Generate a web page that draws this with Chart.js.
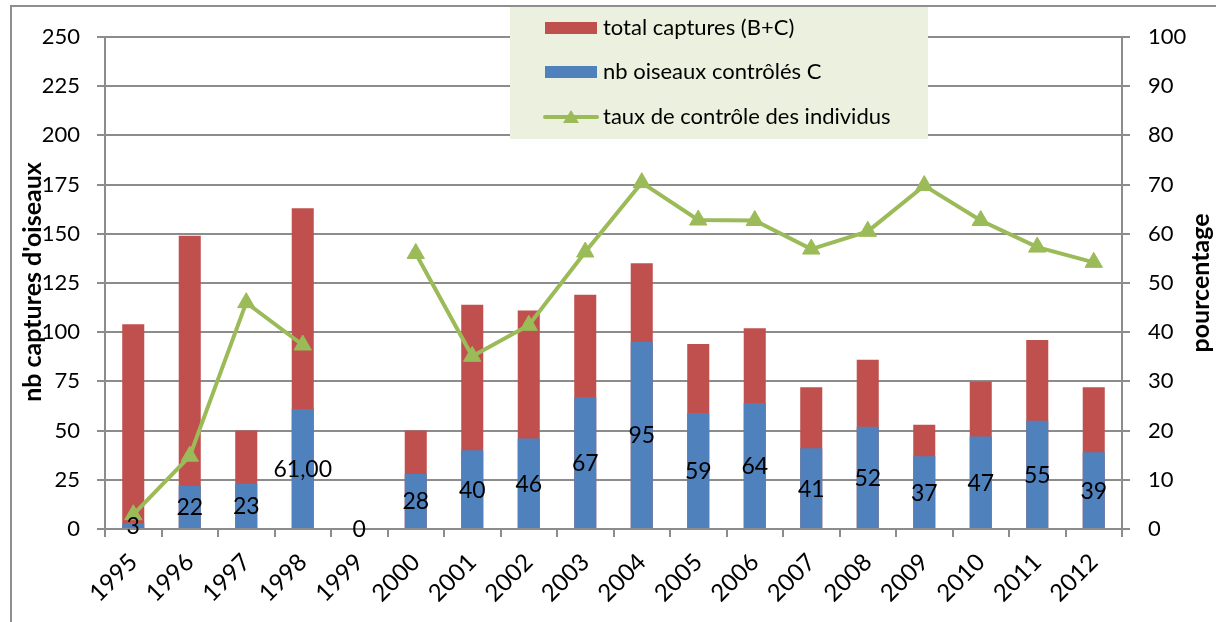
<!DOCTYPE html>
<html>
<head>
<meta charset="utf-8">
<script src="https://cdn.jsdelivr.net/npm/chart.js@4"></script>
<style>
  html, body { margin: 0; padding: 0; background: #fff; overflow: hidden; }
  #wrap { position: relative; width: 1216px; height: 622px; }
  #frame { position: absolute; left: 10px; top: 5px; width: 1300px; height: 700px;
           border: 2px solid #8e8e8e; box-sizing: border-box; pointer-events: none; }
</style>
</head>
<body>
<div id="wrap">
  <canvas id="chart" width="1216" height="622"></canvas>
  <div id="frame"></div>
</div>
<script>
const years = ['1995', '1996', '1997', '1998', '1999', '2000', '2001', '2002', '2003',
  '2004', '2005', '2006', '2007', '2008', '2009', '2010', '2011', '2012'];
const totalCaptures = [104, 149, 50, 163, 0, 50, 114, 111, 119, 135, 94, 102, 72, 86, 53, 75, 96, 72];
const controlled = [3, 22, 23, 61, 0, 28, 40, 46, 67, 95, 59, 64, 41, 52, 37, 47, 55, 39];
const controlRate = [2.9, 14.8, 46, 37.4, null, 56, 35.1, 41.4, 56.3, 70.4, 62.8, 62.7, 56.9, 60.5, 69.8, 62.7, 57.3, 54.2];
const controlledLabels = ['3', '22', '23', '61,00', '0', '28', '40', '46', '67', '95', '59', '64', '41', '52', '37', '47', '55', '39'];

const RED = '#C0504D';
const BLUE = '#4F81BD';
const GREEN = '#9BBB59';
const GRID = '#8c8c8c';
const FONT = 'Lato, "Open Sans", sans-serif';

// values printed in the middle of the blue bars
const barLabels = {
  id: 'barLabels',
  afterDatasetsDraw(chart) {
    const ctx = chart.ctx;
    const meta = chart.getDatasetMeta(1);
    ctx.save();
    ctx.font = '23px ' + FONT;
    ctx.fillStyle = '#000';
    ctx.textAlign = 'center';
    ctx.textBaseline = 'middle';
    meta.data.forEach((bar, i) => {
      const p = bar.getProps(['x', 'y', 'base'], true);
      ctx.fillText(controlledLabels[i], p.x, (p.y + p.base) / 2 + 1);
    });
    ctx.restore();
  }
};

// axis titles (both read bottom-to-top) and the boxed legend over the plot
const decorations = {
  id: 'decorations',
  afterDraw(chart) {
    const ctx = chart.ctx;
    ctx.save();
    ctx.font = 'bold 25px ' + FONT;
    ctx.fillStyle = '#000';
    ctx.textAlign = 'center';
    ctx.textBaseline = 'middle';
    [[33, 282, 'nb captures d\'oiseaux'], [1201, 283, 'pourcentage']].forEach(([x, y, txt]) => {
      ctx.save();
      ctx.translate(x, y);
      ctx.rotate(-Math.PI / 2);
      ctx.fillText(txt, 0, 0);
      ctx.restore();
    });

    // legend box
    const lx = 510, ly = 7, lw = 418, lh = 132;
    ctx.fillStyle = '#EBF1DE';
    ctx.fillRect(lx, ly, lw, lh);
    const rows = [28, 72, 117];
    const ds = chart.data.datasets;
    ctx.font = '22px ' + FONT;
    ctx.textAlign = 'left';
    ctx.textBaseline = 'middle';
    [0, 1].forEach((k) => {
      ctx.fillStyle = ds[k].backgroundColor;
      ctx.fillRect(545, rows[k] - 6, 52, 12);
      ctx.fillStyle = '#000';
      ctx.fillText(ds[k].label, 603, rows[k]);
    });
    ctx.strokeStyle = GREEN;
    ctx.lineWidth = 4;
    ctx.lineCap = 'round';
    ctx.beginPath();
    ctx.moveTo(545, rows[2]);
    ctx.lineTo(597, rows[2]);
    ctx.stroke();
    ctx.fillStyle = GREEN;
    ctx.beginPath();
    ctx.moveTo(571, rows[2] - 7);
    ctx.lineTo(579, rows[2] + 6);
    ctx.lineTo(563, rows[2] + 6);
    ctx.closePath();
    ctx.fill();
    ctx.fillStyle = '#000';
    ctx.fillText(ds[2].label, 603, rows[2]);
    ctx.restore();
  }
};

new Chart(document.getElementById('chart'), {
  data: {
    labels: years,
    datasets: [
      {
        type: 'bar',
        label: 'total captures (B+C)',
        data: totalCaptures,
        backgroundColor: RED,
        grouped: false,
        barPercentage: 0.39,
        categoryPercentage: 1,
        yAxisID: 'y',
        order: 2
      },
      {
        type: 'bar',
        label: 'nb oiseaux contrôlés C',
        data: controlled,
        backgroundColor: BLUE,
        grouped: false,
        barPercentage: 0.39,
        categoryPercentage: 1,
        yAxisID: 'y',
        order: 1
      },
      {
        type: 'line',
        label: 'taux de contrôle des individus',
        data: controlRate,
        borderColor: GREEN,
        backgroundColor: GREEN,
        borderWidth: 4,
        pointStyle: 'triangle',
        pointRadius: 10,
        pointBorderWidth: 1,
        spanGaps: false,
        tension: 0,
        yAxisID: 'y2',
        order: 0
      }
    ]
  },
  options: {
    responsive: false,
    animation: false,
    layout: { padding: { top: 37, left: 0, right: 0, bottom: 0 } },
    plugins: {
      legend: { display: false },
      tooltip: { enabled: false }
    },
    scales: {
      x: {
        offset: true,
        grid: { drawOnChartArea: false, drawTicks: true, tickLength: 8, color: GRID, lineWidth: 2, offset: true },
        border: { color: GRID, width: 2 },
        ticks: { color: '#000', font: { family: FONT, size: 24 }, minRotation: 45, maxRotation: 45, padding: 11, autoSkip: false },
        afterFit(scale) { scale.height = 93; }
      },
      y: {
        position: 'left',
        min: 0,
        max: 250,
        ticks: { stepSize: 25, color: '#000', font: { family: FONT, size: 22 }, padding: 17 },
        grid: { color: GRID, lineWidth: 2, tickLength: 8 },
        border: { color: GRID, width: 2 },
        afterFit(scale) { scale.width = 105; }
      },
      y2: {
        position: 'right',
        min: 0,
        max: 100,
        ticks: { stepSize: 10, color: '#000', font: { family: FONT, size: 22 }, padding: 18 },
        grid: { drawOnChartArea: false, color: GRID, lineWidth: 2, tickLength: 8 },
        border: { color: GRID, width: 2 },
        afterFit(scale) { scale.width = 94; }
      }
    }
  },
  plugins: [barLabels, decorations]
});
</script>
</body>
</html>
